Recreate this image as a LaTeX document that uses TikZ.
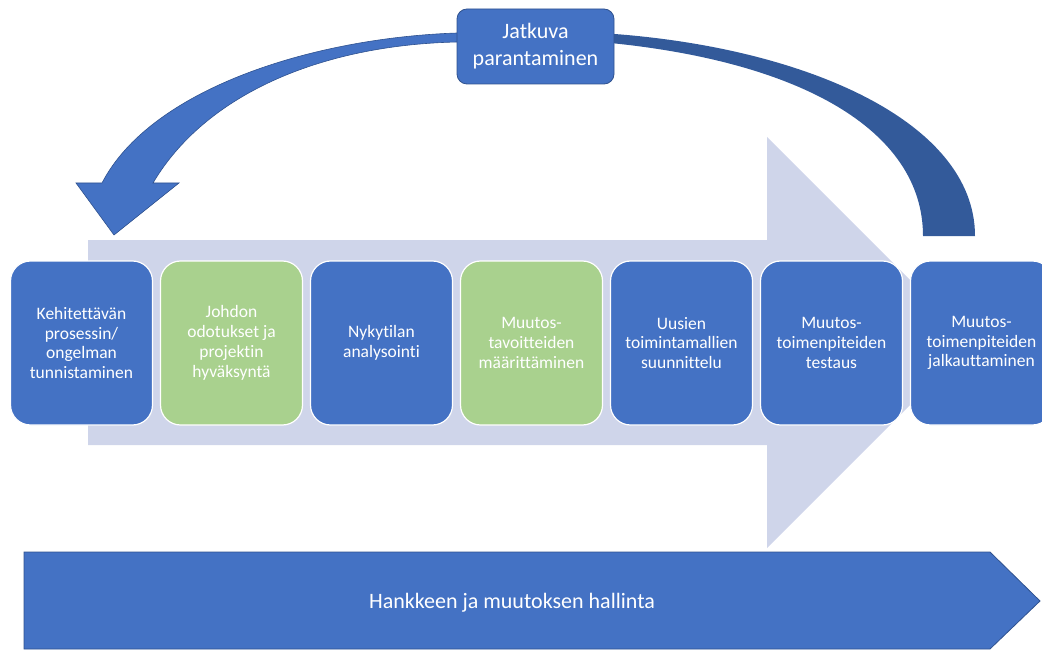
\documentclass[tikz,border=0pt]{standalone}
\usepackage{fontspec}
\setmainfont{Carlito}[Ligatures=NoCommon]
\definecolor{stepblue}{HTML}{4472C4}
\definecolor{stepgreen}{HTML}{A9D18E}
\definecolor{flowbg}{HTML}{CFD5EA}
\definecolor{edgeblue}{HTML}{2F528F}
\definecolor{loopdark}{HTML}{335A9A}
\begin{document}
\begin{tikzpicture}[x=1pt,y=-1pt,
  phase/.style={rectangle, rounded corners=20pt, draw=white, line width=1.2pt,
    minimum width=142pt, minimum height=164pt, align=center, text=white,
    font=\fontsize{17.5}{19.8}\selectfont, inner sep=2pt},
  bluephase/.style={phase, fill=stepblue},
  greenphase/.style={phase, fill=stepgreen},
  loopbox/.style={rectangle, rounded corners=10pt, draw=edgeblue, line width=0.8pt,
    fill=stepblue, minimum width=157pt, minimum height=75pt, align=center,
    text=white, font=\fontsize{22}{27}\selectfont},
  banner/.style={fill=stepblue, draw=edgeblue, line width=0.8pt}]
\useasboundingbox (0,0) rectangle (1042,650);
\clip (0,0) rectangle (1042,650);

% wide process arrow in the background
\fill[flowbg] (88,240) -- (767,240) -- (767,137) -- (972.5,342.5)
  -- (767,548) -- (767,445) -- (88,445) -- cycle;

% process phases
\node[bluephase]  (p1) at (81.5,343)  {Kehitettävän\\prosessin/\\ongelman\\tunnistaminen};
\node[greenphase] (p2) at (231.5,343) {Johdon\\odotukset ja\\projektin\\hyväksyntä};
\node[bluephase]  (p3) at (381.5,343) {Nykytilan\\analysointi};
\node[greenphase] (p4) at (531.5,343) {Muutos-\\tavoitteiden\\määrittäminen};
\node[bluephase]  (p5) at (681.5,343) {Uusien\\toimintamallien\\suunnittelu};
\node[bluephase]  (p6) at (831.5,343) {Muutos-\\toimenpiteiden\\testaus};
\node[bluephase]  (p7) at (981.5,343) {Muutos-\\toimenpiteiden\\jalkauttaminen};

% feedback loop: dark rising band on the right
\fill[loopdark] (600,33) .. controls (800,45) and (975,120) .. (975,236)
  -- (923,236) .. controls (923,130) and (800,60) .. (600,42) -- cycle;

% feedback loop: band and head coming back down on the left
\filldraw[fill=stepblue, draw=edgeblue, line width=0.6pt]
  (470,33) -- (457,33) .. controls (310,38) and (150,90) .. (102,183)
  -- (76,183) -- (114,235) -- (179,183) -- (153,183)
  .. controls (205,95) and (320,45) .. (457,42) -- (470,42);

\node[loopbox] (loop) at (535.5,46.5) {Jatkuva\\parantaminen};

% management band along the bottom
\path[banner] (24,552) -- (990,552) -- (1040,601) -- (990,649) -- (24,649) -- cycle;
\node[text=white, font=\fontsize{22}{27}\selectfont] (mgmt) at (512,603)
  {Hankkeen ja muutoksen hallinta};
\end{tikzpicture}
\end{document}
